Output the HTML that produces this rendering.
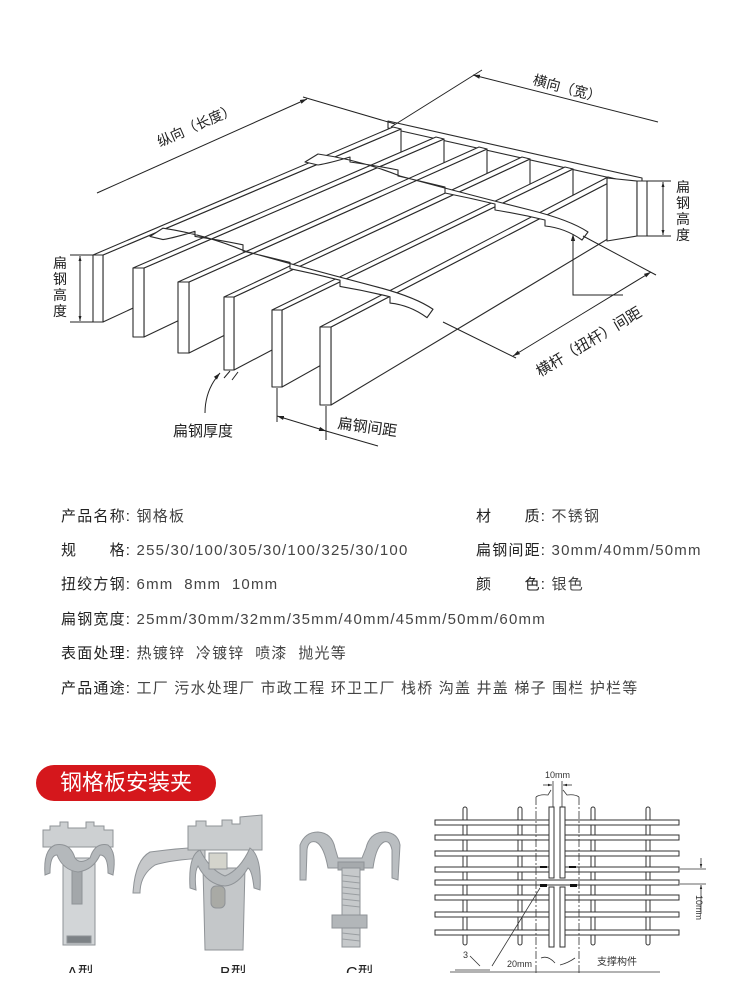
<!DOCTYPE html>
<html><head><meta charset="utf-8">
<style>
html,body{margin:0;padding:0;background:#fff;}
body{width:750px;height:1000px;position:relative;overflow:hidden;font-family:"Liberation Sans","Noto Sans CJK SC",sans-serif;}
.r{position:absolute;font-size:15px;line-height:20px;color:#444;white-space:nowrap;letter-spacing:1.2px;}
.r b{font-weight:normal;color:#222;}
.pill{position:absolute;left:36px;top:765px;width:180px;height:36px;border-radius:18px;background:#d5171c;color:#fff;font-size:22px;line-height:36px;text-align:center;letter-spacing:0px;}
svg{position:absolute;left:0;top:0;}
</style></head>
<body>
<svg width="750" height="1000" viewBox="0 0 750 1000" xmlns="http://www.w3.org/2000/svg" font-family="Liberation Sans, Noto Sans CJK SC, sans-serif">
<defs>
<marker id="ar" viewBox="0 0 10 10" refX="10" refY="5" markerWidth="7" markerHeight="7" orient="auto-start-reverse"><path d="M0,2 L10,5 L0,8 Z" fill="#222"/></marker>
<marker id="as" viewBox="0 0 10 10" refX="10" refY="5" markerWidth="5" markerHeight="5" orient="auto-start-reverse"><path d="M0,2 L10,5 L0,8 Z" fill="#222"/></marker>
</defs>
<g stroke="#2a2a2a" stroke-width="1.1" fill="#fff" stroke-linejoin="round">
<polygon points="388,121 642,178 642,185 388,128"/>
<polygon points="103,255 401,129 401,184 103,322"/><polygon points="93,255 103,255 401,129 393,127"/><rect x="93" y="255" width="10" height="67"/>
<polygon points="144,268 444,139 444,194 144,337"/><polygon points="133,268 144,268 444,139 436,137"/><rect x="133" y="268" width="11" height="69"/>
<polygon points="189,282 487,149 487,204 189,353"/><polygon points="178,282 189,282 487,149 479,147"/><rect x="178" y="282" width="11" height="71"/>
<polygon points="234,297 530,159 530,214 234,370"/><polygon points="224,297 234,297 530,159 522,157"/><rect x="224" y="297" width="10" height="73"/>
<polygon points="282,310 573,169 573,224 282,387"/><polygon points="272,310 282,310 573,169 565,167"/><rect x="272" y="310" width="10" height="77"/>
<polygon points="331,327 616,179 616,234 331,405"/><polygon points="320,327 331,327 616,179 608,177"/><rect x="320" y="327" width="11" height="78"/>
<polygon points="607,178 637,181 637,236 607,241"/><rect x="637" y="181" width="10" height="55"/>
<path d="M305,162 L318,154 Q360,160 400,176 Q470,195 530,210 Q570,220 588,232 L582,240 Q565,228 545,226 L545,220 Q520,214 495,210 L495,204 Q470,198 445,193 L445,187 Q420,181 398,176 L398,170 Q372,165 350,162 L350,157 Q330,163 318,165 Z"/>
<path transform="translate(-155,68) scale(1.0,1.04)" d="M305,162 L318,154 Q360,160 400,176 Q470,195 530,210 Q570,220 588,232 L582,240 Q565,228 545,226 L545,220 Q520,214 495,210 L495,204 Q470,198 445,193 L445,187 Q420,181 398,176 L398,170 Q372,165 350,162 L350,157 Q330,163 318,165 Z"/>
</g>
<g stroke="#222" stroke-width="1" fill="none">
<line x1="97" y1="193" x2="307" y2="99" marker-end="url(#ar)"/>
<line x1="303" y1="97" x2="395" y2="124"/>
<line x1="658" y1="122" x2="473" y2="75" marker-end="url(#ar)"/>
<line x1="482" y1="70" x2="391" y2="127"/>
<line x1="647" y1="181" x2="671" y2="181"/><line x1="647" y1="236" x2="671" y2="236"/>
<line x1="663" y1="208" x2="663" y2="182" marker-end="url(#as)"/><line x1="663" y1="208" x2="663" y2="235" marker-end="url(#as)"/>
<line x1="70" y1="255" x2="93" y2="255"/><line x1="70" y1="322" x2="93" y2="322"/>
<line x1="80" y1="288" x2="80" y2="256" marker-end="url(#as)"/><line x1="80" y1="288" x2="80" y2="321" marker-end="url(#as)"/>
<line x1="443" y1="322" x2="516" y2="358"/><line x1="583" y1="236" x2="656" y2="275"/>
<line x1="582" y1="314" x2="513" y2="356" marker-end="url(#ar)"/><line x1="582" y1="314" x2="651" y2="272" marker-end="url(#ar)"/>
<polyline points="623,295 573,295 573,234" marker-end="url(#ar)"/>
<path d="M205,413 Q205,390 220,373" marker-end="url(#ar)"/>
<line x1="224" y1="378" x2="230" y2="371"/><line x1="232" y1="380" x2="238" y2="372"/>
<line x1="277" y1="388" x2="277" y2="422"/><line x1="326" y1="406" x2="326" y2="440"/>
<line x1="300" y1="423" x2="277" y2="416" marker-end="url(#ar)"/><line x1="300" y1="423" x2="326" y2="431" marker-end="url(#ar)"/>
<line x1="326" y1="431" x2="378" y2="446"/>
</g>
<g fill="#222" font-size="14">
<text x="160" y="147" transform="rotate(-24 160 147)">纵向（长度）</text>
<text x="532" y="84" transform="rotate(15 532 84)">横向（宽）</text>
<text x="540" y="377" font-size="15" transform="rotate(-31 540 377)">横杆（扭杆）间距</text>
<text x="337" y="428" font-size="15" transform="rotate(8 337 428)">扁钢间距</text>
<text x="173" y="436" font-size="15">扁钢厚度</text>
<text x="53" y="268">扁</text><text x="53" y="284">钢</text><text x="53" y="300">高</text><text x="53" y="316">度</text>
<text x="676" y="192">扁</text><text x="676" y="208">钢</text><text x="676" y="224">高</text><text x="676" y="240">度</text>
</g>

<g stroke="#8f9397" stroke-width="1">
<path d="M43,847 L43,830 L50,830 L50,826 L60,826 L60,822 L68,822 L68,828 L86,828 L86,822 L94,822 L94,826 L104,826 L104,830 L113,830 L113,847 Z" fill="#cdd0d2"/>
<rect x="63" y="858" width="32" height="87" fill="#d2d5d7"/>
<rect x="72" y="866" width="10" height="38" fill="#a3a7aa"/>
<rect x="67" y="936" width="24" height="7" fill="#7d8286"/>
<path d="M45,875 Q43,850 55,845 Q70,842 75,858 Q80,865 90,858 Q95,842 108,845 Q117,852 113,875 L108,873 Q108,855 100,855 Q93,870 78,872 Q63,870 57,855 Q50,855 50,873 Z" fill="#b4b8bb"/>
<path d="M133,893 Q135,860 150,852 Q180,848 205,847 L205,858 Q170,860 155,865 Q140,875 140,893 Z" fill="#c6c8ca"/>
<path d="M188,850 L188,826 L196,826 L196,821 L206,821 L206,826 L222,826 L222,820 L232,820 L232,824 L240,824 L240,817 L262,815 L262,850 Z" fill="#c9ccce"/>
<polygon points="203,868 245,868 243,950 205,950" fill="#c4c7c9"/>
<path d="M190,888 Q188,855 200,850 Q210,870 225,876 Q240,870 250,848 Q262,856 260,890 L254,888 Q252,870 248,868 Q238,885 225,886 Q208,885 198,866 Q194,872 196,890 Z" fill="#b6babd"/>
<rect x="209" y="853" width="18" height="16" fill="#d4d4cc"/>
<rect x="211" y="886" width="14" height="22" rx="5" fill="#a9aaa5"/>
<path d="M300,880 L300,845 Q305,832 318,832 Q332,833 335,848 L338,858 L362,858 L366,848 Q370,832 385,832 Q398,833 400,845 L398,880 L392,878 L392,850 Q390,840 384,842 Q376,846 373,868 L328,868 Q324,846 316,842 Q308,840 307,850 L306,880 Z" fill="#babec1"/>
<rect x="338" y="862" width="26" height="8" fill="#a6aaad"/>
<rect x="342" y="868" width="18" height="79" fill="#c6c9cb"/>
<rect x="332" y="915" width="35" height="13" fill="#b2b6b9"/>
</g>
<g stroke="#9a9ea1" stroke-width="1">
<line x1="342" y1="875" x2="360" y2="877"/><line x1="342" y1="881" x2="360" y2="883"/><line x1="342" y1="887" x2="360" y2="889"/><line x1="342" y1="893" x2="360" y2="895"/><line x1="342" y1="899" x2="360" y2="901"/><line x1="342" y1="905" x2="360" y2="907"/><line x1="342" y1="933" x2="360" y2="935"/><line x1="342" y1="939" x2="360" y2="941"/>
</g>

<g stroke="#333" stroke-width="1" fill="#fff">
<rect x="463" y="807" width="4" height="138" rx="2"/><rect x="518" y="807" width="4" height="138" rx="2"/>
<rect x="591" y="807" width="4" height="138" rx="2"/><rect x="646" y="807" width="4" height="138" rx="2"/>
<rect x="435" y="820" width="114" height="5"/><rect x="565" y="820" width="114" height="5"/>
<rect x="435" y="835" width="114" height="5"/><rect x="565" y="835" width="114" height="5"/>
<rect x="435" y="851" width="114" height="5"/><rect x="565" y="851" width="114" height="5"/>
<rect x="435" y="867" width="114" height="5"/><rect x="565" y="867" width="114" height="5"/>
<rect x="435" y="895" width="114" height="5"/><rect x="565" y="895" width="114" height="5"/>
<rect x="435" y="912" width="114" height="5"/><rect x="565" y="912" width="114" height="5"/>
<rect x="435" y="930" width="114" height="5"/><rect x="565" y="930" width="114" height="5"/>
<rect x="549" y="807" width="5" height="71"/><rect x="560" y="807" width="5" height="71"/>
<rect x="549" y="887" width="5" height="60"/><rect x="560" y="887" width="5" height="60"/>
<rect x="435" y="880" width="244" height="5"/>
</g>
<g stroke="#333" stroke-width="0.8" fill="none">
<line x1="536" y1="797" x2="536" y2="975" stroke-dasharray="8,2,2,2"/>
<line x1="579" y1="797" x2="579" y2="975" stroke-dasharray="8,2,2,2"/>
<path d="M536,797 Q540,794 548,795 L551,790 M579,797 Q575,794 567,795 L563,790"/>
<line x1="553" y1="781" x2="553" y2="807"/><line x1="562" y1="781" x2="562" y2="807"/>
<line x1="543" y1="785" x2="552" y2="785" marker-end="url(#as)"/><line x1="572" y1="785" x2="563" y2="785" marker-end="url(#as)"/>
<line x1="680" y1="869" x2="706" y2="869"/><line x1="680" y1="884" x2="706" y2="884"/>
<line x1="701" y1="858" x2="701" y2="868" marker-end="url(#as)"/><line x1="701" y1="914" x2="701" y2="885" marker-end="url(#as)"/>
<line x1="540" y1="888" x2="492" y2="966"/>
<path d="M455,970 L490,970 M470,956 L480,966"/>
<path d="M541,958 Q548,955 555,963 M560,965 Q568,963 575,958"/>
<line x1="450" y1="972" x2="660" y2="972"/>
</g>
<g fill="#111"><rect x="540" y="866" width="7" height="2"/><rect x="540" y="884" width="7" height="3"/><rect x="569" y="866" width="7" height="2"/><rect x="570" y="884" width="7" height="3"/></g>
<g fill="#333" font-size="9">
<text x="545" y="778">10mm</text>
<text x="696" y="895" transform="rotate(90 696 895)">10mm</text>
<text x="463" y="958">3</text>
<text x="507" y="967">20mm</text>
<text x="597" y="965" font-size="10">支撑构件</text>
</g>
<g fill="#222" font-size="16">
<text x="67" y="978">A型</text><text x="220" y="978">B型</text><text x="346" y="978">C型</text>
</g>
<rect x="0" y="973" width="750" height="27" fill="#fff"/>
</svg>

<div class="r" style="left:61px;top:507px"><b>产品名称:</b> 钢格板</div>
<div class="r" style="left:476px;top:507px"><b>材　　质:</b> 不锈钢</div>
<div class="r" style="left:61px;top:541px"><b>规　　格:</b> 255/30/100/305/30/100/325/30/100</div>
<div class="r" style="left:476px;top:541px"><b>扁钢间距:</b> 30mm/40mm/50mm</div>
<div class="r" style="left:61px;top:575px"><b>扭绞方钢:</b> 6mm&nbsp; 8mm&nbsp; 10mm</div>
<div class="r" style="left:476px;top:575px"><b>颜　　色:</b> 银色</div>
<div class="r" style="left:61px;top:610px"><b>扁钢宽度:</b> 25mm/30mm/32mm/35mm/40mm/45mm/50mm/60mm</div>
<div class="r" style="left:61px;top:644px"><b>表面处理:</b> 热镀锌&nbsp; 冷镀锌&nbsp; 喷漆&nbsp; 抛光等</div>
<div class="r" style="left:61px;top:679px"><b>产品通途:</b> 工厂 污水处理厂 市政工程 环卫工厂 栈桥 沟盖 井盖 梯子 围栏 护栏等</div>
<div class="pill">钢格板安装夹</div>
</body></html>
